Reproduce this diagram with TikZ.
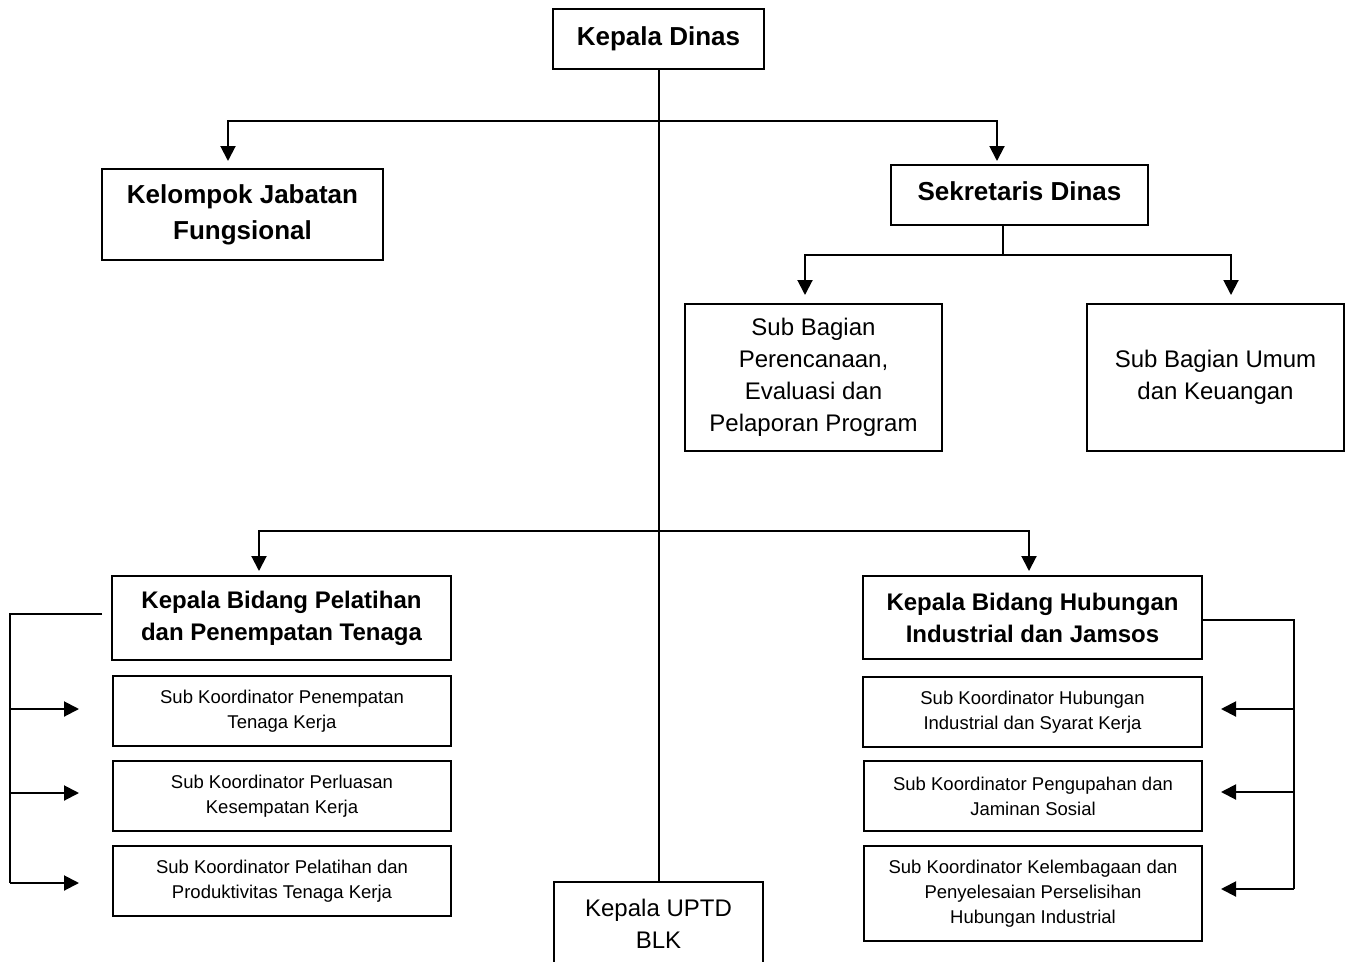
\documentclass[tikz,border=0pt]{standalone}
\usepackage{fontspec}
\setmainfont{Liberation Sans}
\usetikzlibrary{arrows.meta}
\begin{document}
\begin{tikzpicture}[x=1pt,y=-1pt,
  bx/.style={draw, line width=2pt, inner sep=0pt, align=center},
  con/.style={line width=2pt},
  arr/.style={line width=2pt, -{Triangle[length=15pt,width=15pt]}},
  big/.style={font=\fontsize{26}{36}\selectfont\bfseries},
  mid/.style={font=\fontsize{24}{32}\selectfont\bfseries},
  reg/.style={font=\fontsize{24}{32}\selectfont},
  sml/.style={font=\fontsize{18.5}{25}\selectfont}]
\useasboundingbox (0,0) rectangle (1349,961);
\clip (0,0) rectangle (1349,961);
\fill[white] (0,0) rectangle (1349,961);

% nodes
\node[bx, big, minimum width=211pt, minimum height=60pt] (kd) at (658.5,39) {Kepala Dinas};
\node[bx, big, minimum width=281pt, minimum height=91pt] (kj) at (242.5,214.5) {Kelompok Jabatan\\Fungsional};
\node[bx, big, minimum width=257pt, minimum height=60pt, text depth=8pt] (sd) at (1019.5,195) {Sekretaris Dinas};
\node[bx, reg, minimum width=257pt, minimum height=147pt] (sb1) at (813.5,377.5) {Sub Bagian\\Perencanaan,\\Evaluasi dan\\Pelaporan Program};
\node[bx, reg, minimum width=257pt, minimum height=147pt] (sb2) at (1215.5,377.5) {Sub Bagian Umum\\dan Keuangan};
\node[bx, mid, minimum width=339pt, minimum height=84pt] (kb1) at (281.5,618) {Kepala Bidang Pelatihan\\dan Penempatan Tenaga};
\node[bx, sml, minimum width=338pt, minimum height=70pt] (p1) at (282,711) {Sub Koordinator Penempatan\\Tenaga Kerja};
\node[bx, sml, minimum width=338pt, minimum height=70pt] (p2) at (282,796) {Sub Koordinator Perluasan\\Kesempatan Kerja};
\node[bx, sml, minimum width=338pt, minimum height=70pt] (p3) at (282,881) {Sub Koordinator Pelatihan dan\\Produktivitas Tenaga Kerja};
\node[bx, mid, minimum width=339pt, minimum height=83pt] (kb2) at (1032.5,617.5) {Kepala Bidang Hubungan\\Industrial dan Jamsos};
\node[bx, sml, minimum width=339pt, minimum height=70pt] (h1) at (1032.5,712) {Sub Koordinator Hubungan\\Industrial dan Syarat Kerja};
\node[bx, sml, minimum width=338pt, minimum height=70pt] (h2) at (1033,796) {Sub Koordinator Pengupahan dan\\Jaminan Sosial};
\node[bx, sml, minimum width=338pt, minimum height=95pt] (h3) at (1033,893.5) {Sub Koordinator Kelembagaan dan\\Penyelesaian Perselisihan\\Hubungan Industrial};
\node[bx, reg, minimum width=209pt, minimum height=84pt] (uptd) at (658.5,924) {Kepala UPTD\\BLK};

% trunk
\draw[con] (kd.south) -- (uptd.north);

% top branch
\coordinate (j1) at (658.5,121);
\draw[arr] (j1) -| ([xshift=-14.5pt,yshift=7pt]kj.north);
\draw[arr] (j1) -| ([xshift=-22.5pt,yshift=3pt]sd.north);

% sekretaris branch
\coordinate (j2) at (1003,255);
\draw[con] ([xshift=-16.5pt]sd.south) -- (j2);
\draw[arr] (j2) -| ([xshift=-8.5pt,yshift=8pt]sb1.north);
\draw[arr] (j2) -| ([xshift=15.5pt,yshift=8pt]sb2.north);

% bidang branch
\coordinate (j3) at (658.5,531);
\draw[arr] (j3) -| ([xshift=-22.5pt,yshift=4pt]kb1.north);
\draw[arr] (j3) -| ([xshift=-3.5pt,yshift=4pt]kb2.north);

% left bracket
\coordinate (l0) at (10,614);
\coordinate (l1) at (10,709);
\coordinate (l2) at (10,793);
\coordinate (l3) at (10,883);
\draw[con] ([xshift=-9pt,yshift=4pt]kb1.west) -- (l0) -- (l3);
\draw[arr] (l1) -- ([xshift=-33pt,yshift=2pt]p1.west);
\draw[arr] (l2) -- ([xshift=-33pt,yshift=3pt]p2.west);
\draw[arr] (l3) -- ([xshift=-33pt,yshift=-2pt]p3.west);

% right bracket
\coordinate (r0) at (1294,620);
\coordinate (r1) at (1294,709);
\coordinate (r2) at (1294,792);
\coordinate (r3) at (1294,889);
\draw[con] ([yshift=-2.5pt]kb2.east) -- (r0) -- (r3);
\draw[arr] (r1) -- ([xshift=18pt,yshift=3pt]h1.east);
\draw[arr] (r2) -- ([xshift=18pt,yshift=4pt]h2.east);
\draw[arr] (r3) -- ([xshift=18pt,yshift=4.5pt]h3.east);
\end{tikzpicture}
\end{document}
